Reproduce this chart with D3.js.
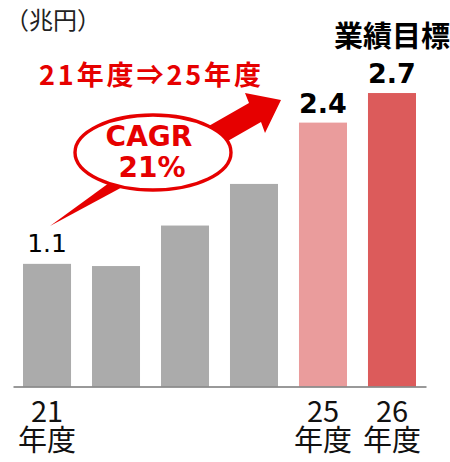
<!DOCTYPE html>
<html>
<head>
<meta charset="utf-8">
<script src="https://cdn.jsdelivr.net/npm/d3@7"></script>
<style>
  html, body { margin: 0; padding: 0; background: #fff; }
  svg { display: block; }
</style>
</head>
<body>
<div id="chart"></div>
<script>
// ---- data ----
const categories = ["21", "22", "23", "24", "25", "26"];
const values = [1.12, 1.10, 1.47, 1.85, 2.41, 2.68];
const valueLabels = ["1.1", "", "", "", "2.4", "2.7"];
const tickTop = ["21", "", "", "", "25", "26"];
const tickBottom = ["年度", "", "", "", "年度", "年度"];
const unitLabel = "（兆円）";
const targetLabel = "業績目標";
const periodLabel = "21年度⇒25年度";
const cagrLines = ["CAGR", "21%"];

// ---- styles ----
const barColors = ["#ababab", "#ababab", "#ababab", "#ababab", "#ea9c9c", "#dc5b5b"];
const RED = "#e60000";
const W = 450, H = 462;

const svg = d3.select("#chart").append("svg")
  .attr("width", W).attr("height", H);

const x = d3.scaleBand()
  .domain(categories)
  .range([13, 426])
  .paddingInner(0.304)
  .paddingOuter(0.145);

const y = d3.scaleLinear()
  .domain([0, 3])
  .range([386.5, 58]);

// bars
svg.append("g").selectAll("rect")
  .data(values)
  .join("rect")
  .attr("x", (d, i) => x(categories[i]))
  .attr("y", d => y(d))
  .attr("width", x.bandwidth())
  .attr("height", d => y(0) - y(d))
  .attr("fill", (d, i) => barColors[i]);

// axis (baseline)
const axis = svg.append("g")
  .attr("transform", `translate(0,${y(0)})`)
  .call(d3.axisBottom(x).tickSize(0).tickSizeOuter(0).tickFormat(""));
axis.select(".domain").attr("stroke", "#777").attr("stroke-width", 1.6);

// tick labels (two lines in one text element)
const tickG = svg.append("g")
  .attr("font-family", "'Noto Sans CJK JP', sans-serif")
  .attr("font-size", 29)
  .attr("fill", "#111")
  .attr("text-anchor", "middle");
categories.forEach((c, i) => {
  if (!tickTop[i] && !tickBottom[i]) return;
  const cx = x(c) + x.bandwidth() / 2;
  const t = tickG.append("text").attr("x", cx).attr("y", 421.5);
  t.append("tspan").attr("x", cx).text(tickTop[i]);
  t.append("tspan").attr("x", cx).attr("dy", 29.5).text(tickBottom[i]);
});

// value labels
categories.forEach((c, i) => {
  if (!valueLabels[i]) return;
  const bold = i >= 4;
  svg.append("text")
    .attr("x", x(c) + x.bandwidth() / 2)
    .attr("y", y(values[i]) - (bold ? 10 : 12))
    .attr("text-anchor", "middle")
    .attr("font-family", "'DejaVu Sans', sans-serif")
    .attr("font-weight", bold ? "bold" : "normal")
    .attr("font-size", bold ? 27 : 25)
    .attr("fill", "#000")
    .text(valueLabels[i]);
});

// target label
svg.append("text")
  .attr("x", x("26") + x.bandwidth() / 2)
  .attr("y", 47)
  .attr("text-anchor", "middle")
  .attr("font-family", "'Noto Sans CJK JP', sans-serif")
  .attr("font-weight", "bold")
  .attr("font-size", 29)
  .attr("fill", "#000")
  .text(targetLabel);

// unit label
svg.append("text")
  .attr("x", 5)
  .attr("y", 29)
  .attr("font-family", "'Noto Sans CJK JP', sans-serif")
  .attr("font-size", 24)
  .attr("fill", "#222")
  .text(unitLabel);

// period label
svg.append("text")
  .attr("x", 39)
  .attr("y", 85)
  .attr("font-family", "'Noto Sans CJK JP', sans-serif")
  .attr("font-weight", "bold")
  .attr("font-size", 27)
  .attr("fill", RED)
  .attr("textLength", 222)
  .attr("lengthAdjust", "spacing")
  .text(periodLabel);

// big arrow
const arrowPts = [[200, 131], [249, 103], [245, 93], [281, 100], [265, 133], [261, 122], [212, 150]];
svg.append("path")
  .attr("d", d3.line()(arrowPts) + "Z")
  .attr("fill", RED);

// callout tail
const tailPts = [[109, 183], [128, 184], [50, 226]];
svg.append("path")
  .attr("d", d3.line()(tailPts) + "Z")
  .attr("fill", RED);

// callout ellipse
svg.append("ellipse")
  .attr("cx", 153).attr("cy", 152.5)
  .attr("rx", 78).attr("ry", 37.5)
  .attr("fill", "#fff")
  .attr("stroke", RED)
  .attr("stroke-width", 3.4);

// callout text
const cg = svg.append("g")
  .attr("font-family", "'DejaVu Sans', sans-serif")
  .attr("font-weight", "bold")
  .attr("font-size", 28)
  .attr("fill", RED)
  .attr("text-anchor", "middle");
cg.append("text").attr("x", 149).attr("y", 146).text(cagrLines[0]);
cg.append("text").attr("x", 152).attr("y", 177).text(cagrLines[1]);
</script>
</body>
</html>
